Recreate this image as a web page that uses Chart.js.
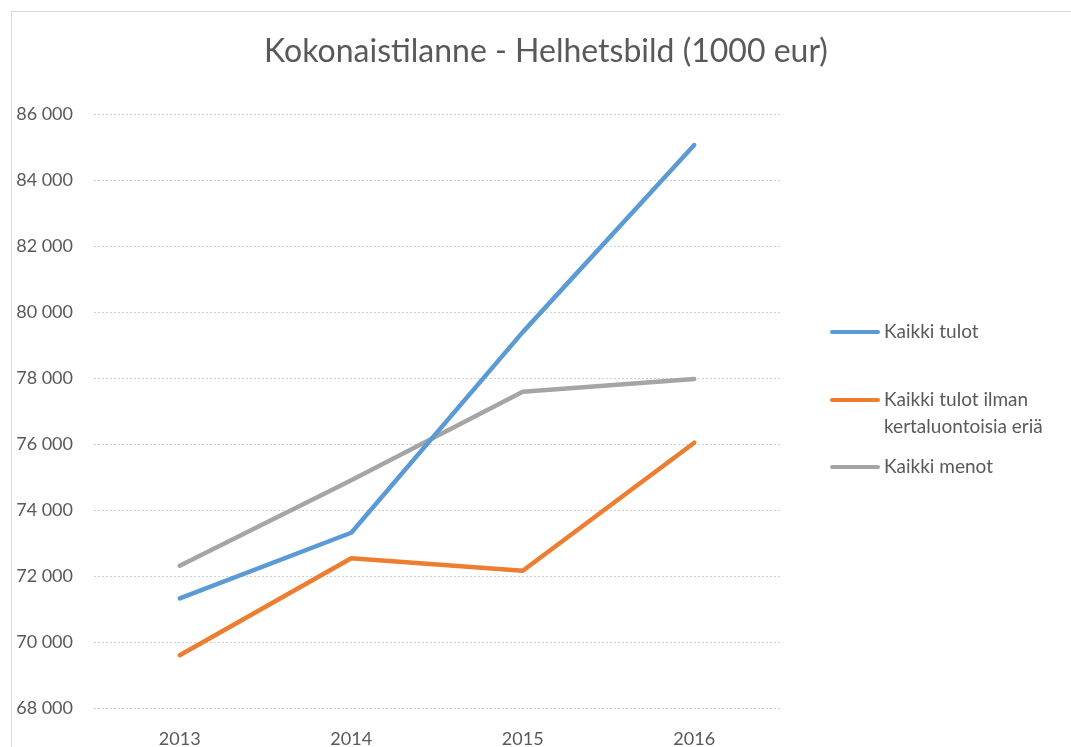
<!DOCTYPE html>
<html>
<head>
<meta charset="utf-8">
<script src="https://cdn.jsdelivr.net/npm/chart.js@4.4.1/dist/chart.umd.min.js"></script>
<style>
  html, body { margin: 0; padding: 0; background: #fff; }
  #wrap { width: 1071px; height: 747px; position: relative; }
</style>
</head>
<body>
<div id="wrap"><canvas id="kokonais"></canvas></div>
<script>
// vuodet ja sarjat (1000 eur)
const years = ['2013', '2014', '2015', '2016'];
const kaikkiTulot = [71320, 73310, 79390, 85060];
const tulotIlmanKertaluontoisia = [69600, 72540, 72160, 76040];
const kaikkiMenot = [72310, 74900, 77580, 77970];

const seriesNames = ['Kaikki tulot', ['Kaikki tulot ilman', 'kertaluontoisia eriä'], 'Kaikki menot'];
const seriesColors = ['#5B9BD5', '#ED7D31', '#A5A5A5'];
const yTicks = [68000, 70000, 72000, 74000, 76000, 78000, 80000, 82000, 84000, 86000];

const chartTitle = 'Kokonaistilanne - Helhetsbild (1000 eur)';
const fontFamily = 'Lato, "Open Sans", sans-serif';
const textColor = '#595959';

const formatThousands = v => String(v).replace(/\B(?=(\d{3})+(?!\d))/g, ' ');

// kehys, otsikko ja selite piirretään itse
const frameTitleLegend = {
    id: 'frameTitleLegend',
    beforeDraw(chart) {
        const c = chart.ctx;
        c.save();
        c.fillStyle = '#fff';
        c.fillRect(0, 0, chart.width, chart.height);
        c.strokeStyle = '#d9d9d9';
        c.lineWidth = 1;
        c.strokeRect(11.5, 11.5, chart.width + 20, chart.height + 20);
        c.restore();
    },
    afterDraw(chart) {
        const c = chart.ctx;
        c.save();
        c.fillStyle = textColor;
        c.font = '32px ' + fontFamily;
        c.textAlign = 'center';
        c.textBaseline = 'middle';
        c.fillText(chartTitle, 546, 52);

        const rowY = [332, 400, 467];
        c.font = '19px ' + fontFamily;
        c.textAlign = 'left';
        chart.data.datasets.forEach((ds, i) => {
            const y = rowY[i];
            c.strokeStyle = ds.borderColor;
            c.lineWidth = 4;
            c.lineCap = 'round';
            c.beginPath();
            c.moveTo(832, y);
            c.lineTo(878, y);
            c.stroke();
            const lines = Array.isArray(seriesNames[i]) ? seriesNames[i] : [seriesNames[i]];
            lines.forEach((t, k) => c.fillText(t, 884, y + k * 27));
        });
        c.restore();
    }
};

new Chart(document.getElementById('kokonais'), {
    type: 'line',
    data: {
        labels: years,
        datasets: [
            { label: 'Kaikki tulot', data: kaikkiTulot },
            { label: 'Kaikki tulot ilman kertaluontoisia eriä', data: tulotIlmanKertaluontoisia },
            { label: 'Kaikki menot', data: kaikkiMenot }
        ].map((ds, i) => ({
            ...ds,
            borderColor: seriesColors[i],
            backgroundColor: seriesColors[i],
            borderWidth: 4.5,
            borderCapStyle: 'round',
            borderJoinStyle: 'round',
            pointRadius: 0,
            tension: 0
        }))
    },
    options: {
        responsive: true,
        maintainAspectRatio: false,
        animation: false,
        layout: { padding: { left: 11, top: 114, right: 291, bottom: 0 } },
        plugins: {
            legend: { display: false },
            title: { display: false },
            tooltip: { enabled: false }
        },
        scales: {
            x: {
                offset: true,
                afterFit: scale => { scale.height = 39; },
                grid: { display: false, drawTicks: false },
                border: { display: false },
                ticks: { color: textColor, font: { family: fontFamily, size: 18 }, padding: 20 }
            },
            y: {
                min: 68000,
                max: 86000,
                afterBuildTicks: scale => { scale.ticks = yTicks.map(v => ({ value: v })); },
                afterFit: scale => { scale.width = 83; },
                grid: { color: '#d0d0d0', drawTicks: false, lineWidth: 1 },
                border: { display: false, dash: [2, 2] },
                ticks: {
                    color: textColor,
                    font: { family: fontFamily, size: 18 },
                    padding: 21,
                    callback: v => formatThousands(v)
                }
            }
        }
    },
    plugins: [frameTitleLegend]
});
</script>
</body>
</html>
